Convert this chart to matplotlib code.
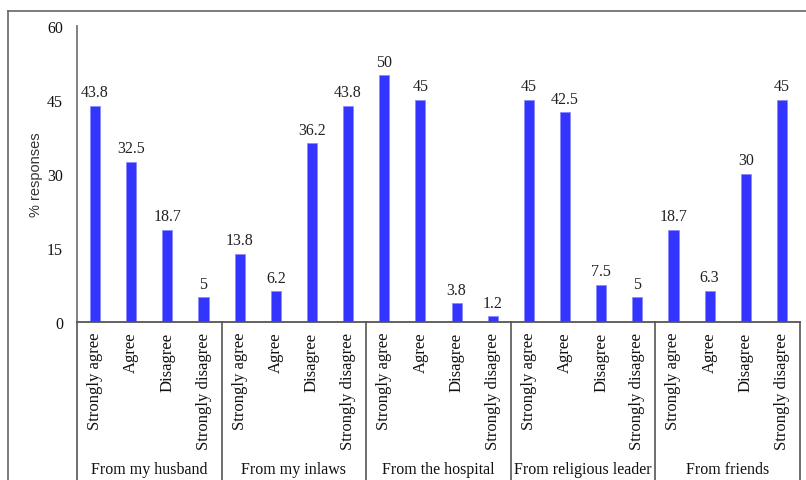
import matplotlib
matplotlib.use("Agg")
import matplotlib.pyplot as plt
from matplotlib.lines import Line2D

groups = [
    "From my husband",
    "From my inlaws",
    "From the hospital",
    "From religious leader",
    "From friends",
]
responses = ["Strongly agree", "Agree", "Disagree", "Strongly disagree"]

husband = [43.8, 32.5, 18.7, 5]
inlaws = [13.8, 6.2, 36.2, 43.8]
hospital = [50, 45, 3.8, 1.2]
religious = [45, 42.5, 7.5, 5]
friends = [18.7, 6.3, 30, 45]

y_ticks = [0, 15, 30, 45, 60]

values = husband + inlaws + hospital + religious + friends
labels = responses * len(groups)
n = len(responses)

plt.rcParams["font.family"] = ["Liberation Serif", "DejaVu Serif"]
W, H = 806, 481
fig = plt.figure(figsize=(W / 100, H / 100), dpi=100)
fig.patch.set_facecolor("white")

# axes box in pixel coords: left 77, right 800, top 27, zero line 323
ax = fig.add_axes([77 / W, (H - 323) / H, (800 - 77) / W, (323 - 27) / H])

x = list(range(len(values)))
bars = ax.bar(x, values, width=0.28, color="#3434ff",
              edgecolor="#8a8aff", linewidth=0.6)
ax.bar_label(bars, labels=[f"{v:g}" for v in values], padding=4,
             fontsize=11.5, color="#222222")

ax.set_xlim(-0.5, len(values) - 0.5)
ax.set_ylim(0, 60)
ax.set_yticks(y_ticks)
ax.set_xticks(x)
ax.set_xticklabels(labels, rotation=90, va="top", fontsize=12)
ax.tick_params(axis="x", length=0, pad=7, colors="#111111")
ax.tick_params(axis="y", length=0, pad=10, labelsize=11.5, colors="#111111")

for side in ["top", "right"]:
    ax.spines[side].set_visible(False)
ax.spines["left"].set_color("#777777")
ax.spines["left"].set_linewidth(1.3)
ax.spines["bottom"].set_color("#555555")
ax.spines["bottom"].set_linewidth(1.3)

# table lines below the axis
trans = ax.get_xaxis_transform()
for k in range(len(groups) + 1):
    xb = k * n - 0.5
    ax.plot([xb, xb], [0, -0.6], transform=trans, color="#555555",
            linewidth=1.2, clip_on=False)

for k, g in enumerate(groups):
    ax.text(k * n + (n - 1) / 2, -0.497, g, transform=trans,
            ha="center", va="center", fontsize=11.5, color="#111111")

fig.text(36 / W, 1 - 175 / H, "% responses", rotation=90, ha="center",
         va="center", fontsize=10.5, color="#333333",
         family=["Liberation Sans", "DejaVu Sans"])

# outer frame
fig.add_artist(Line2D([8 / W, 8 / W], [1 - 12 / H, 0], color="#666666",
                      linewidth=1.2, transform=fig.transFigure))
fig.add_artist(Line2D([8 / W, 1], [1 - 12 / H, 1 - 12 / H], color="#666666",
                      linewidth=1.2, transform=fig.transFigure))

fig.savefig("out.png", dpi=100)
plt.close(fig)
